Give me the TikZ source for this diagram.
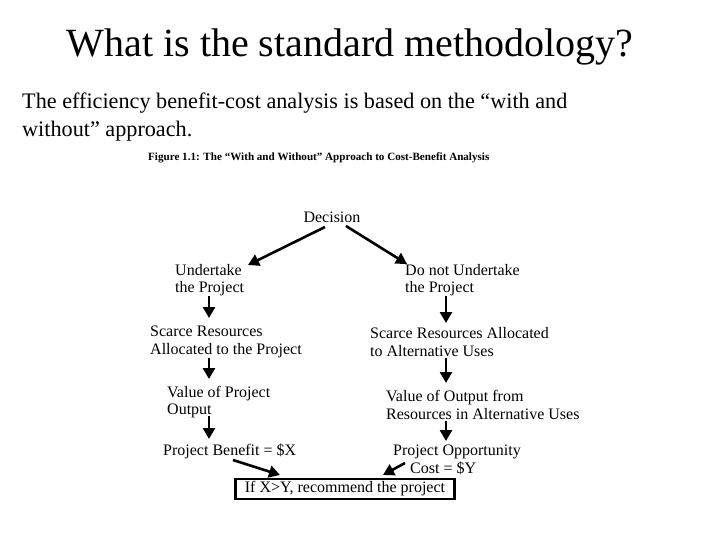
\documentclass[tikz,border=0pt]{standalone}
\usepackage{fontspec}
\setmainfont{Liberation Serif}
\usetikzlibrary{arrows.meta}
\begin{document}
\begin{tikzpicture}[x=1pt,y=-1pt,
  lbl/.style={anchor=west,align=left,inner sep=0pt,font=\fontsize{16}{17.5}\selectfont},
  arr/.style={line width=2.6pt,-{Triangle[length=11pt,width=12pt]}}]
\useasboundingbox (0,0) rectangle (720,540);
\node[font=\fontsize{40}{44}\selectfont] (title) at (350,47) {What is the standard methodology?};
\node[anchor=west,align=left,inner sep=0pt,font=\fontsize{22.2}{28}\selectfont] (body) at (22,117) {The efficiency benefit-cost analysis is based on the “with and\\without” approach.};
\node[anchor=west,inner sep=0pt,font=\bfseries\fontsize{11.1}{13}\selectfont] (cap) at (148,158) {Figure 1.1: The “With and Without” Approach to Cost-Benefit Analysis};
\node[lbl,anchor=center] (dec) at (332,217) {Decision};
\node[lbl] (u) at (175,280) {Undertake\\the Project};
\node[lbl] (nu) at (405,280) {Do not Undertake\\the Project};
\node[lbl] (sr) at (150,342) {Scarce Resources\\Allocated to the Project};
\node[lbl] (sra) at (370,342) {Scarce Resources Allocated\\to Alternative Uses};
\node[lbl] (vp) at (167,402) {Value of Project\\Output};
\node[lbl] (vo) at (386,405) {Value of Output from\\Resources in Alternative Uses};
\node[lbl] (pb) at (163,451) {Project Benefit = \$X};
\node[lbl] (po) at (393,460) {Project Opportunity\\\hspace*{17pt}Cost = \$Y};
\node[draw,line width=2.2pt,inner sep=0pt,minimum width=219pt,minimum height=20pt,font=\fontsize{16}{17}\selectfont] (box) at (345,489) {If X>Y, recommend the project};
\coordinate (a1) at (325,227); \coordinate (a2) at (248,265);
\coordinate (b1) at (346,226); \coordinate (b2) at (407,264);
\draw[arr] (a1) -- (a2);
\draw[arr] (b1) -- (b2);
\draw[arr] (209,296) -- (209,318);
\draw[arr] (209,358) -- (209,379);
\draw[arr] (209,416) -- (209,439);
\draw[arr] (446,296) -- (446,323);
\draw[arr] (446,358) -- (446,383);
\draw[arr] (446,421) -- (446,441);
\coordinate (c1) at (233,460); \coordinate (c2) at (280,475);
\coordinate (d1) at (405,463); \coordinate (d2) at (383,475);
\draw[arr] (c1) -- (c2);
\draw[arr] (d1) -- (d2);
\end{tikzpicture}
\end{document}
